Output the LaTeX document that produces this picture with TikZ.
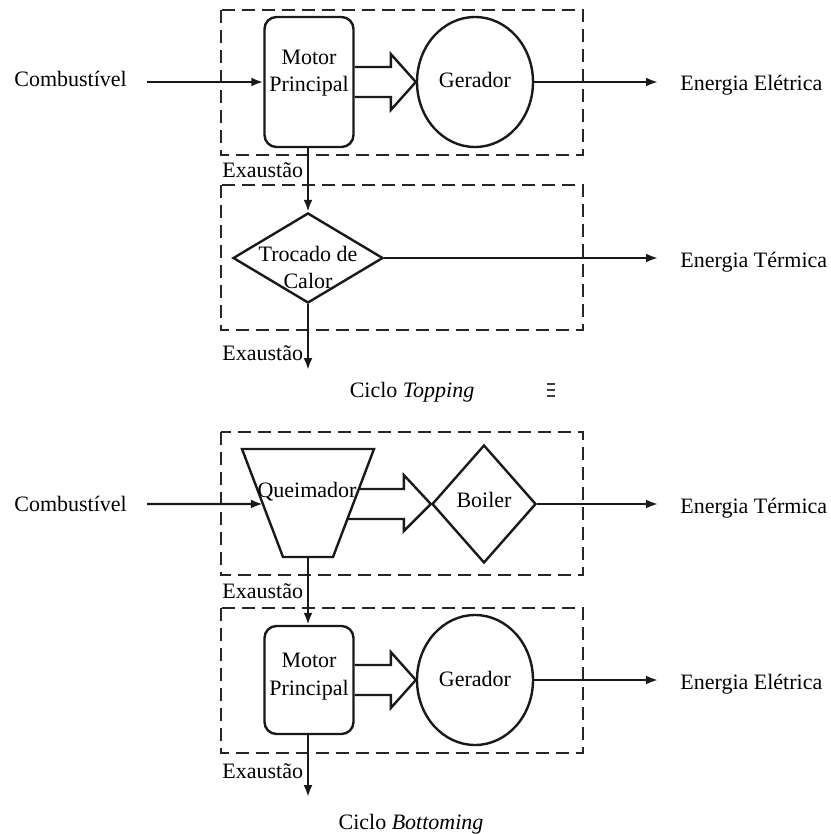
\documentclass[tikz,border=0pt]{standalone}
\usepackage{fontspec}
\setmainfont{Liberation Serif}
\usetikzlibrary{arrows.meta,calc,shapes.geometric}
\begin{document}
\begin{tikzpicture}[x=0.5pt,y=-0.5pt,
  every node/.style={font=\fontsize{11}{13.5}\selectfont, inner sep=0pt},
  dbox/.style={draw=black!85, line width=1.4pt, dash pattern=on 6.5pt off 3.5pt},
  ln/.style={draw=black!90, line width=1.2pt},
  flow/.style={ln, -{Latex[length=6pt,width=4.5pt]}},
  lbl/.style={anchor=base},
  lblw/.style={anchor=base west},
  motorbox/.style={draw=black!90, line width=1.2pt, rounded corners=6pt, minimum width=44.5pt},
  gen/.style={draw=black!90, ellipse, line width=1.2pt, minimum width=58pt, minimum height=65pt},
  diam/.style={draw=black!90, diamond, line width=1.2pt}
]
\useasboundingbox (0,0) rectangle (830,834);

% ---------------- Topping ----------------
\draw[dbox] (221,10) rectangle (583,155);
\draw[dbox] (221,185) rectangle (583,330);

\node[motorbox, minimum height=65pt] (m1) at (309,82) {};
\node[lbl] (m1a) at (309,65) {Motor};
\node[lbl] (m1b) at (309,92) {Principal};
\node[gen] (g1) at (475,82) {};
\node[lbl] (g1t) at (475,88) {Gerador};

\node[lblw] (c1) at (14,87) {Combustível};
\coordinate (c1s) at (147,82);
\draw[flow] (c1s) -- (m1.west);

\draw[ln] ($(m1.east)+(0,-15)$) -- ($(g1.west)+(-25,-15)$) -- ($(g1.west)+(-25,-28)$) -- (g1.west)
  -- ($(g1.west)+(-25,28)$) -- ($(g1.west)+(-25,15)$) -- ($(m1.east)+(0,15)$);

\coordinate (e1a) at (658,82);
\draw[flow] (g1.east) -- (e1a);
\node[lblw] (e1) at (680,91) {Energia Elétrica};

\node[diam, minimum width=75pt, minimum height=45pt] (d1) at (308,258) {};
\node[lbl] (d1a) at (308,261) {Trocado de};
\node[lbl] (d1b) at (308,288) {Calor};

\node[lblw] (ex1) at (222,177) {Exaustão};
\draw[flow] (d1.north |- m1.south) -- (d1.north);

\coordinate (e2a) at (658,258);
\draw[flow] (d1.east) -- (e2a);
\node[lblw] (e2) at (680,267) {Energia Térmica};

\coordinate (x2) at (308,370);
\draw[flow] (d1.south) -- (x2);
\node[lblw] (ex2) at (222,360) {Exaustão};

\node[lbl] (ct) at (412,397) {Ciclo \textit{Topping}};

\draw[black!75, line width=1pt] (547,384) -- (555,384) (547,390) -- (555,390) (547,396) -- (555,396);

% ---------------- Bottoming ----------------
\draw[dbox] (221,432) rectangle (583,575);
\draw[dbox] (221,608) rectangle (583,753);

\coordinate (qtl) at (242,449);
\coordinate (qtr) at (374,449);
\coordinate (qbr) at (333,557);
\coordinate (qbl) at (283,557);
\coordinate (qbot) at (308,557);
\draw[ln, line join=miter] (qtl) -- (qtr) -- (qbr) -- (qbl) -- cycle;
\node[lbl] (qt) at (307,497) {Queimador};

\node[diam, minimum width=52pt, minimum height=59pt] (d2) at (484,504) {};
\node[lbl] (d2t) at (484,507) {Boiler};

\coordinate (c2s) at (147,504);
\draw[flow] (c2s) -- ($(qtl)!0.509!(qbl)$);
\node[lblw] (c2) at (14,511) {Combustível};

\draw[ln] ($(qtr)!0.370!(qbr)$) -- ($(d2.west)+(-27,-15)$) -- ($(d2.west)+(-27,-29)$) -- (d2.west)
  -- ($(d2.west)+(-27,27)$) -- ($(d2.west)+(-27,15)$) -- ($(qtr)!0.648!(qbr)$);

\coordinate (e3a) at (658,504);
\draw[flow] (d2.east) -- (e3a);
\node[lblw] (e3) at (680,513) {Energia Térmica};

\node[motorbox, minimum height=54pt] (m2) at (309,680) {};
\node[lbl] (m2a) at (309,667) {Motor};
\node[lbl] (m2b) at (309,695) {Principal};

\node[lblw] (ex3) at (222,598) {Exaustão};
\draw[flow] (qbot) -- (qbot |- m2.north);

\node[gen] (g2) at (475,680) {};
\node[lbl] (g2t) at (475,686) {Gerador};

\draw[ln] ($(m2.east)+(0,-15)$) -- ($(g2.west)+(-25,-15)$) -- ($(g2.west)+(-25,-28)$) -- (g2.west)
  -- ($(g2.west)+(-25,28)$) -- ($(g2.west)+(-25,15)$) -- ($(m2.east)+(0,15)$);

\coordinate (e4a) at (658,680);
\draw[flow] (g2.east) -- (e4a);
\node[lblw] (e4) at (680,689) {Energia Elétrica};

\coordinate (x4) at (308,797);
\draw[flow] (qbot |- m2.south) -- (x4);
\node[lblw] (ex4) at (222,778) {Exaustão};

\node[lbl] (cb) at (411,829) {Ciclo \textit{Bottoming}};
\end{tikzpicture}
\end{document}
